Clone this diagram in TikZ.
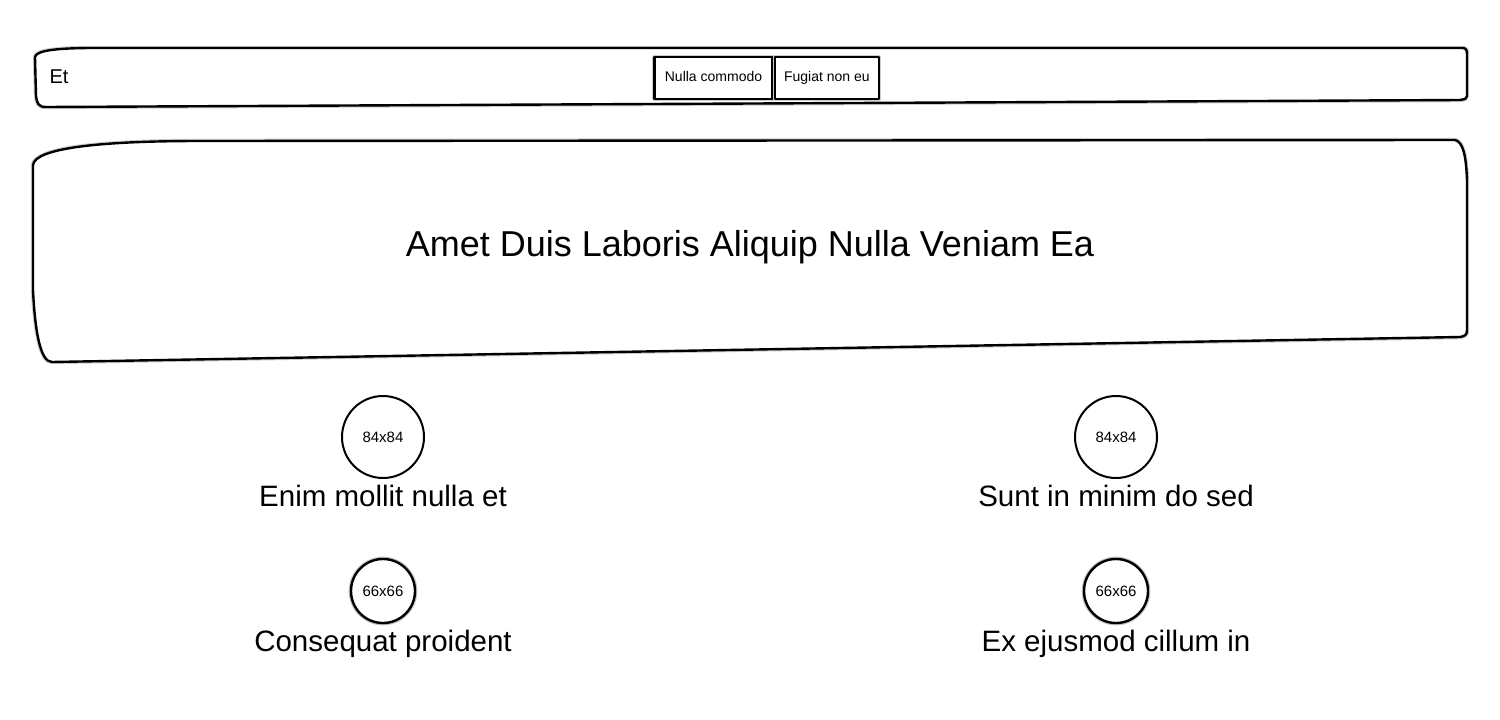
\documentclass[tikz,border=0pt]{standalone}
\usepackage{fontspec}
\setmainfont{Liberation Sans}
\usetikzlibrary{positioning}
\tikzstyle{box}=[draw=black,line width=2.4pt,fill=white,line join=round,preaction={draw=black!20,line width=4.4pt}]
\tikzstyle{btn}=[box,shape=rectangle,inner sep=0pt,minimum height=42pt,text height=10pt,text depth=3pt,font=\fontsize{14}{16}\selectfont]
\tikzstyle{pic}=[draw=black,line width=2pt,fill=white,shape=circle,inner sep=0pt,font=\fontsize{15}{17}\selectfont]
\tikzstyle{lbl}=[inner sep=0pt,font=\fontsize{29.5}{34}\selectfont]

\begin{document}
\begin{tikzpicture}[x=1pt,y=-1pt]
	\useasboundingbox (0,0) rectangle (1500,720);
	% top bar
	\draw[box] (35,57) .. controls (36,50) and (60,48) .. (95,48) -- (1462,48)
		.. controls (1466,48) and (1467,50) .. (1467,54) -- (1467,96)
		.. controls (1467,99) and (1465,99) .. (1460,100) -- (46,107)
		.. controls (38,107) and (37,103) .. (36,96) -- cycle;
	\node (et) [anchor=west,font=\fontsize{20}{22}\selectfont] at (46,77) {Et};
	\node (b1) [btn,minimum width=118pt] at (713.5,78) {Nulla commodo};
	\node (b2) [btn,minimum width=104pt,right=0pt of b1] {Fugiat non eu};
	% banner
	\draw[box] (33,165) .. controls (35,148) and (100,141) .. (200,141) -- (1455,140)
		.. controls (1463,142) and (1466,155) .. (1467,180) -- (1467,330)
		.. controls (1467,335) and (1465,336) .. (1460,337) -- (52,362)
		.. controls (40,362) and (35,330) .. (33,290) -- cycle;
	\node (title) [font=\fontsize{36}{42}\selectfont] at (750,247) {Amet Duis Laboris Aliquip Nulla Veniam Ea};
	% pictures
	\node (p1) [pic,minimum size=82pt] at (383,437) {84x84};
	\node (p2) [pic,minimum size=82pt] at (1116,437) {84x84};
	\node (p3) [pic,minimum size=64pt,line width=2.4pt,preaction={draw=black!25,line width=4.6pt}] at (383,591) {66x66};
	\node (p4) [pic,minimum size=64pt,line width=2.4pt,preaction={draw=black!25,line width=4.6pt}] at (1116,591) {66x66};
	\node (l1) [lbl,below=6pt of p1] {Enim mollit nulla et};
	\node (l2) [lbl,below=6pt of p2] {Sunt in minim do sed};
	\node (l3) [lbl,below=6pt of p3] {Consequat proident};
	\node (l4) [lbl,below=6pt of p4] {Ex ejusmod cillum in};
\end{tikzpicture}
\end{document}
